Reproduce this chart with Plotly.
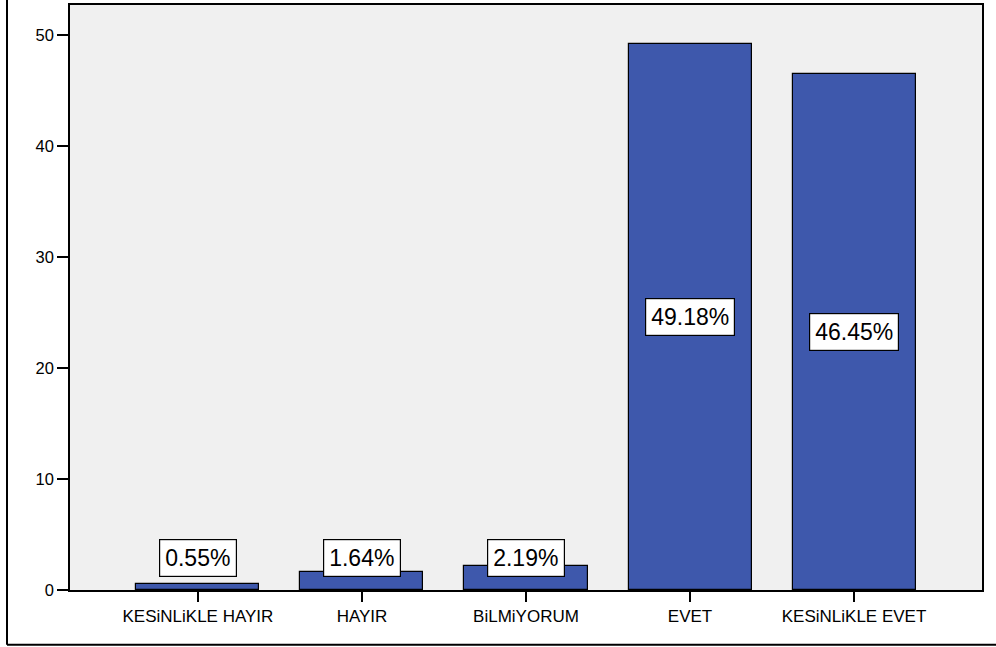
import plotly.graph_objects as go

categories = ["KESiNLiKLE HAYIR", "HAYIR", "BiLMiYORUM", "EVET", "KESiNLiKLE EVET"]
percent = [0.55, 1.64, 2.19, 49.18, 46.45]
y_ticks = [0, 10, 20, 30, 40, 50]

FONT = "Liberation Sans, Arial, sans-serif"
BAR_COLOR = "#3e58ac"

fig = go.Figure()
fig.add_trace(go.Bar(
    x=list(range(len(categories))),
    y=percent,
    width=0.75,
    marker=dict(color=BAR_COLOR, line=dict(color="black", width=1.2)),
    hoverinfo="skip",
))

annotations = []
for i, v in enumerate(percent):
    annotations.append(dict(
        x=i, y=max(v / 2, 2.9), xref="x", yref="y",
        text=f"{v:.2f}%", showarrow=False,
        font=dict(family=FONT, size=23, color="black"),
        bgcolor="white", bordercolor="black", borderwidth=1.2, borderpad=5,
        xanchor="center", yanchor="middle",
    ))

# outer frame (left and bottom edges visible in the picture)
W, H = 996, 647
ml, mr, mt, mb = 70, 14, 3, 57
pw, ph = W - ml - mr, H - mt - mb
fx = (7 - ml) / pw
fy = ((H - mb) - 645) / ph
shapes = [
    dict(type="line", xref="paper", yref="paper", x0=fx, x1=fx, y0=fy, y1=1.05,
         line=dict(color="black", width=2)),
    dict(type="line", xref="paper", yref="paper", x0=fx, x1=1.05, y0=fy, y1=fy,
         line=dict(color="black", width=2)),
]

fig.update_layout(
    width=W, height=H,
    margin=dict(l=ml, r=mr, t=mt, b=mb, pad=0),
    paper_bgcolor="white", plot_bgcolor="#f0f0f0",
    showlegend=False, bargap=0,
    annotations=annotations, shapes=shapes,
    font=dict(family=FONT, color="black"),
)
fig.update_xaxes(
    range=[-0.78, len(categories) - 1 + 0.78],
    tickmode="array", tickvals=list(range(len(categories))), ticktext=categories,
    ticks="outside", ticklen=10, tickwidth=1.5, tickcolor="black",
    tickfont=dict(family=FONT, size=17, color="black"),
    showline=True, linecolor="black", linewidth=1.5, mirror=True,
    showgrid=False, zeroline=False, fixedrange=True,
)
fig.update_yaxes(
    range=[0, 52.7],
    tickmode="array", tickvals=y_ticks, ticktext=[str(t) for t in y_ticks],
    ticks="outside", ticklen=11, tickwidth=1.5, tickcolor="black",
    tickfont=dict(family=FONT, size=16.5, color="black"),
    showline=True, linecolor="black", linewidth=1.5, mirror=True,
    showgrid=False, zeroline=False, fixedrange=True,
)

fig.write_html("out.html", config={"displayModeBar": False})
